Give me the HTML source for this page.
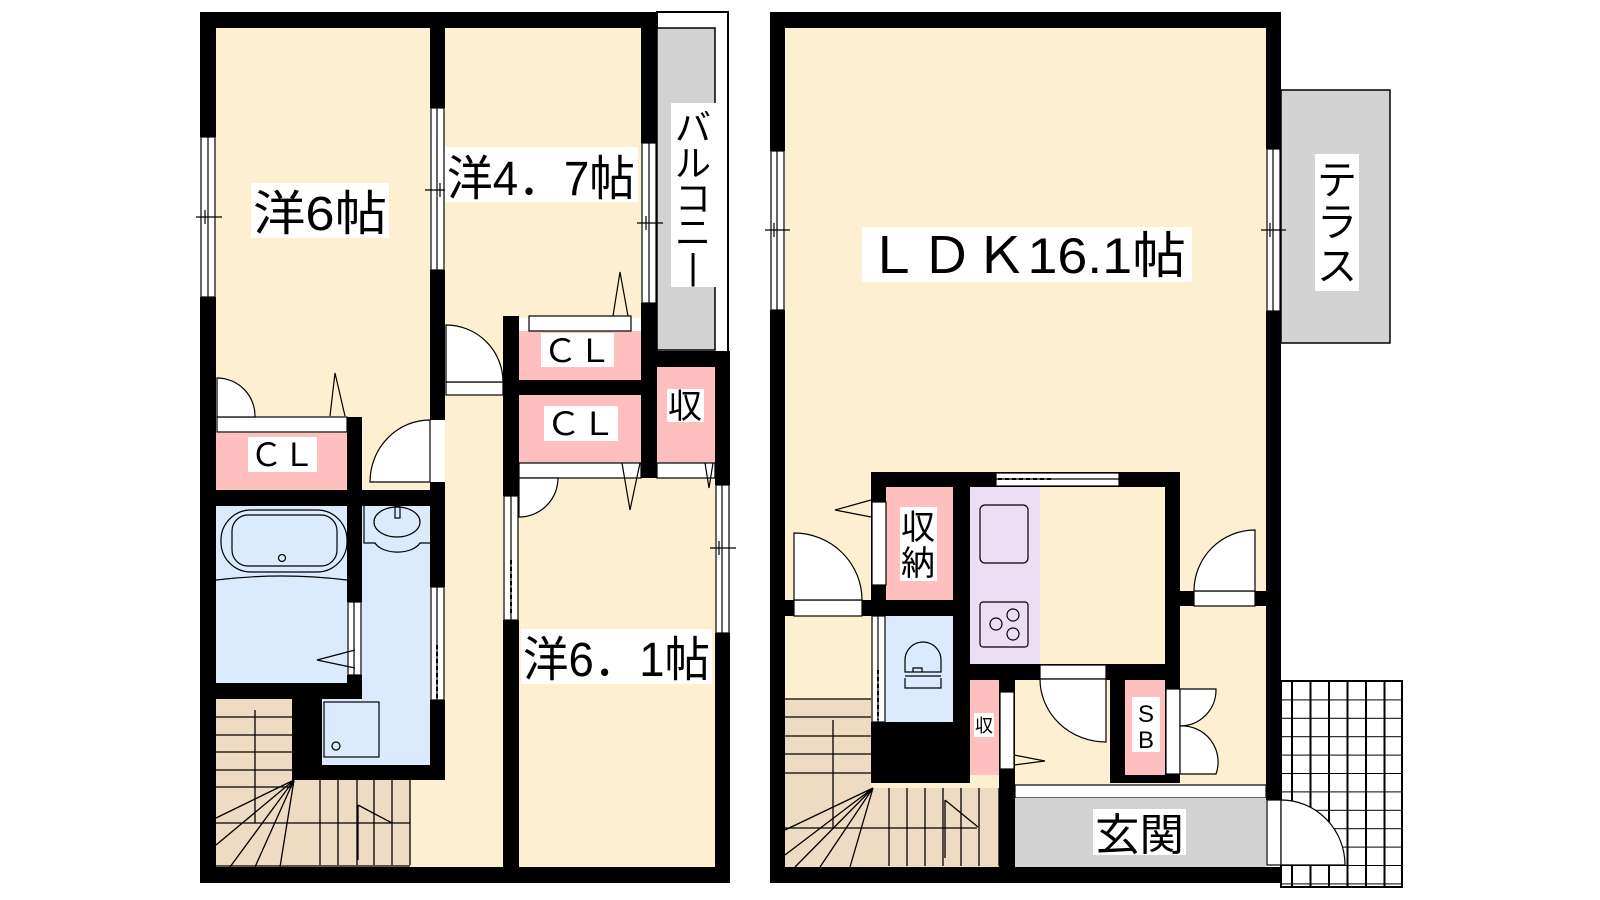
<!DOCTYPE html>
<html><head><meta charset="utf-8">
<style>
html,body{margin:0;padding:0;background:#fff;}
svg{display:block;}
text{font-family:"Liberation Sans","Noto Sans CJK JP",sans-serif;fill:#000;}
</style></head>
<body>
<svg width="1600" height="900" viewBox="0 0 1600 900" xmlns="http://www.w3.org/2000/svg">
<defs>
<pattern id="grid" x="1281" y="681" width="18.5" height="18.4" patternUnits="userSpaceOnUse">
<path d="M11 0V18.4M0 0H18.5" stroke="#000" stroke-width="2" fill="none"/>
</pattern>
</defs>

<!-- ============ LEFT BUILDING ============ -->
<rect x="216" y="28" width="214" height="462" fill="#fdf0d1"/>
<rect x="445" y="28" width="196" height="290" fill="#fdf0d1"/>
<rect x="445" y="316" width="58" height="552" fill="#fdf0d1"/>
<rect x="405" y="778" width="45" height="90" fill="#fdf0d1"/>
<rect x="519" y="478" width="196" height="390" fill="#fdf0d1"/>
<rect x="657" y="12" width="71" height="340" fill="#fff" stroke="#000" stroke-width="2"/>
<rect x="657" y="28" width="58" height="322" fill="#d3d3d3" stroke="#000" stroke-width="1.5"/>
<rect x="216" y="433" width="131" height="57" fill="#ffbfbf"/>
<rect x="519" y="331" width="122" height="49" fill="#ffbfbf"/>
<rect x="519" y="395" width="122" height="68" fill="#ffbfbf"/>
<rect x="657" y="367" width="58" height="96" fill="#ffbfbf"/>
<rect x="216" y="506" width="131" height="177" fill="#dbeafc"/>
<rect x="362" y="506" width="68" height="259" fill="#dbeafc"/>
<rect x="322" y="699" width="108" height="66" fill="#dbeafc"/>
<rect x="216" y="699" width="76" height="168" fill="#eddcc2"/>
<rect x="292" y="780" width="118" height="87" fill="#eddcc2"/>
<g stroke="#000" stroke-width="1.3" fill="none">
<path d="M216 717H292M216 735H292M216 752H292M216 770H292M216 787H292M255 710V823H410M255 823H216"/>
<path d="M320 780V865M338 780V865M357 780V865M374 780V865M392 780V865M410 780V865"/>
<path d="M294 780L216 818M294 780L216 845M294 780L230 867M294 780L255 867M294 780L280 867"/>
<path d="M358 805V860M358 805L392 823"/>
<path d="M216 866H410"/>
</g>
<g fill="#000">
<rect x="200" y="12" width="457" height="16"/>
<rect x="200" y="12" width="16" height="125"/>
<rect x="200" y="297" width="16" height="586"/>
<rect x="430" y="12" width="15" height="96"/>
<rect x="430" y="270" width="15" height="150"/>
<rect x="430" y="482" width="15" height="105"/>
<rect x="430" y="700" width="15" height="80"/>
<rect x="641" y="12" width="16" height="131"/>
<rect x="641" y="303" width="16" height="175"/>
<rect x="641" y="351" width="89" height="16"/>
<rect x="715" y="351" width="15" height="134"/>
<rect x="715" y="633" width="15" height="250"/>
<rect x="503" y="316" width="16" height="180"/>
<rect x="503" y="620" width="16" height="263"/>
<rect x="503" y="380" width="138" height="15"/>
<rect x="347" y="417" width="15" height="185"/>
<rect x="347" y="675" width="15" height="24"/>
<rect x="200" y="490" width="245" height="16"/>
<rect x="200" y="683" width="162" height="16"/>
<rect x="292" y="683" width="30" height="97"/>
<rect x="292" y="765" width="153" height="15"/>
<rect x="200" y="867" width="530" height="16"/>
</g>
<g fill="#fff" stroke="#000" stroke-width="1.2">
<rect x="201" y="137" width="14" height="160"/>
<rect x="431" y="108" width="13" height="162"/>
<rect x="642" y="143" width="14" height="160"/>
<rect x="716" y="485" width="13" height="148"/>
<rect x="504" y="496" width="14" height="124"/>
<rect x="431" y="587" width="13" height="113"/>
<rect x="348" y="602" width="13" height="73"/>
</g>
<g stroke="#000" stroke-width="1.2" fill="none">
<path d="M208 137V297M437 108V270M649 143V303M722 485V633M511 496V620M437 587V700M354 602V675"/>
<path d="M196 217H222M205 210V224M425 190H451M440 183V197M637 223H663M646 216V230M710 548H736M719 541V555"/>
<path d="M511 560V615M437 645V698" stroke-dasharray="4 3" stroke-width="2"/>
</g>
<g fill="#fff" stroke="#000" stroke-width="1.2">
<rect x="217" y="417" width="130" height="15"/>
<path d="M217 417V378A38 38 0 0 1 255 417Z"/>
<rect x="446" y="382" width="57" height="13"/>
<path d="M446 382V325A57 57 0 0 1 503 382Z"/>
<path d="M430 420V482H370A60 62 0 0 1 430 420Z"/>
<rect x="529" y="316" width="102" height="15"/>
<rect x="519" y="463" width="122" height="15"/>
<rect x="657" y="463" width="58" height="15"/>
<path d="M519 478H558A39 39 0 0 1 519 517Z"/>
<path d="M330 416L335 373L345 416" fill="none"/>
<path d="M613 316L620 272L628 316" fill="none"/>
<path d="M622 463L630 510L640 463" fill="none"/>
<path d="M705 463L709 488L713 463" fill="none"/>
<path d="M355 650L317 660L355 668" fill="none"/>
</g>
<g fill="none" stroke="#000" stroke-width="1.2">
<rect x="221" y="510" width="126" height="62" rx="30"/>
<rect x="232" y="515" width="105" height="51" rx="16"/>
<circle cx="282" cy="558" r="3.5"/>
<path d="M216 580Q282 572 347 580"/>
<path d="M364 506V543H375A24 14 0 0 0 420 543H430"/>
<ellipse cx="397" cy="522" rx="23" ry="15"/>
<rect x="395" y="506" width="5" height="12"/>
<rect x="324" y="702" width="55" height="55"/>
<circle cx="336" cy="746" r="4"/>
</g>

<!-- ============ RIGHT BUILDING ============ -->
<rect x="785" y="28" width="481" height="839" fill="#fdf0d1"/>
<rect x="1281" y="90" width="109" height="253" fill="#d3d3d3" stroke="#000" stroke-width="1.5"/>
<rect x="1281" y="681" width="121" height="206" fill="url(#grid)" stroke="#000" stroke-width="2"/>
<rect x="886" y="487" width="67" height="113" fill="#ffbfbf"/>
<rect x="970" y="487" width="70" height="177" fill="#ecdff3"/>
<rect x="886" y="616" width="67" height="106" fill="#dbeafc"/>
<rect x="969" y="680" width="30" height="95" fill="#ffbfbf"/>
<rect x="1125" y="680" width="40" height="95" fill="#ffbfbf"/>
<rect x="785" y="699" width="86" height="168" fill="#eddcc2"/>
<rect x="871" y="788" width="128" height="79" fill="#eddcc2"/>
<g stroke="#000" stroke-width="1.3" fill="none">
<path d="M785 699H871M785 717H871M785 736H871M785 754H871M785 773H871M833 720V828H977M833 828H785"/>
<path d="M889 788V866M907 788V866M925 788V866M943 788V866M961 788V866M979 788V866M999 788V866"/>
<path d="M873 788L785 830M873 788L785 855M873 788L795 867M873 788L820 867M873 788L850 867"/>
<path d="M945 800V858M945 800L978 827"/>
</g>
<rect x="1015" y="785" width="251" height="13" fill="#fff" stroke="#000" stroke-width="1.2"/>
<rect x="1015" y="798" width="251" height="69" fill="#d3d3d3"/>
<g fill="#000">
<rect x="770" y="12" width="511" height="16"/>
<rect x="770" y="12" width="15" height="139"/>
<rect x="770" y="310" width="15" height="573"/>
<rect x="1266" y="12" width="15" height="137"/>
<rect x="1266" y="311" width="15" height="489"/>
<rect x="770" y="867" width="511" height="16"/>
<rect x="871" y="472" width="309" height="15"/>
<rect x="871" y="472" width="15" height="128"/>
<rect x="953" y="472" width="17" height="311"/>
<rect x="1165" y="472" width="15" height="311"/>
<rect x="770" y="600" width="200" height="16"/>
<rect x="871" y="722" width="99" height="61"/>
<rect x="953" y="664" width="227" height="16"/>
<rect x="1110" y="664" width="15" height="119"/>
<rect x="1110" y="775" width="70" height="8"/>
<rect x="999" y="680" width="16" height="187"/>
<rect x="1180" y="591" width="86" height="15"/>
</g>
<g fill="#fff" stroke="#000" stroke-width="1.2">
<rect x="771" y="151" width="13" height="159"/>
<rect x="1267" y="149" width="13" height="162"/>
<rect x="996" y="473" width="123" height="13"/>
<rect x="872" y="616" width="13" height="106"/>
</g>
<g stroke="#000" stroke-width="1.2" fill="none">
<path d="M777 151V310M1273 149V311M996 479H1119M878 616V722"/>
<path d="M765 230H790M774 223V237M1261 230H1286M1270 223V237"/>
<path d="M998 479H1051M878 670V720" stroke-dasharray="4 3" stroke-width="2"/>
</g>
<g fill="#fff" stroke="#000" stroke-width="1.2">
<rect x="794" y="600" width="68" height="16"/>
<path d="M794 600V533A68 67 0 0 1 862 600Z"/>
<rect x="872" y="502" width="14" height="83"/>
<path d="M871 517L835 510L871 500" fill="none"/>
<rect x="1194" y="591" width="61" height="15"/>
<path d="M1255 591V530A61 61 0 0 0 1194 591Z"/>
<rect x="1040" y="665" width="66" height="14"/>
<path d="M1040 679H1106V742A66 63 0 0 1 1040 679Z"/>
<rect x="1000" y="692" width="14" height="77"/>
<path d="M1014 765L1045 761L1014 755" fill="none"/>
<rect x="1166" y="689" width="14" height="85"/>
<path d="M1180 689H1216A36 36 0 0 1 1180 726Z"/>
<path d="M1180 774H1216A36 36 0 0 0 1180 726Z"/>
<rect x="1267" y="800" width="14" height="65"/>
<path d="M1281 800A64 65 0 0 1 1345 865H1281Z"/>
</g>
<g fill="none" stroke="#000" stroke-width="1.2">
<rect x="980" y="505" width="48" height="58" rx="5"/>
<rect x="980" y="602" width="48" height="45" rx="3"/>
<circle cx="996" cy="624" r="6"/><circle cx="1013" cy="615" r="6"/><circle cx="1013" cy="634" r="6"/>
<path d="M905 672V660A18 18 0 0 1 941 660V672ZM905 672H913V668H922V672H941M905 676H941M905 678V688H941V678"/>
</g>

<!-- ============ LABELS ============ -->
<g>
<rect x="251" y="183" width="138" height="55" fill="#fff"/>
<text x="253" y="230" font-size="48" textLength="134" lengthAdjust="spacingAndGlyphs">洋6帖</text>
<rect x="445" y="147" width="193" height="55" fill="#fff"/>
<text x="447" y="195" font-size="48" textLength="188" lengthAdjust="spacingAndGlyphs">洋4．7帖</text>
<rect x="671" y="103" width="45" height="184" fill="#fff"/>
<text font-size="36" x="693" y="140" text-anchor="middle">バ</text>
<text font-size="36" x="693" y="176" text-anchor="middle">ル</text>
<text font-size="36" x="693" y="211" text-anchor="middle">コ</text>
<text font-size="36" x="693" y="245" text-anchor="middle">ニ</text>
<text font-size="36" x="693" y="279" text-anchor="middle">|</text>
<rect x="248" y="437" width="69" height="35" fill="#fff"/>
<text x="250" y="466" font-size="32" textLength="65" lengthAdjust="spacingAndGlyphs">ＣＬ</text>
<rect x="541" y="333" width="73" height="34" fill="#fff"/>
<text x="543" y="362" font-size="32" textLength="69" lengthAdjust="spacingAndGlyphs">ＣＬ</text>
<rect x="544" y="406" width="74" height="35" fill="#fff"/>
<text x="546" y="435" font-size="32" textLength="70" lengthAdjust="spacingAndGlyphs">ＣＬ</text>
<rect x="667" y="389" width="37" height="33" fill="#fff"/>
<text x="668" y="418" font-size="34">収</text>
<rect x="521" y="629" width="191" height="55" fill="#fff"/>
<text x="523" y="676" font-size="48" textLength="187" lengthAdjust="spacingAndGlyphs">洋6．1帖</text>
<rect x="862" y="227" width="330" height="55" fill="#fff"/>
<text x="866" y="273" font-size="50" textLength="320" lengthAdjust="spacingAndGlyphs">ＬＤＫ16.1帖</text>
<rect x="1315" y="154" width="44" height="137" fill="#fff"/>
<text font-size="40" x="1337" y="194" text-anchor="middle">テ</text>
<text font-size="40" x="1337" y="236" text-anchor="middle">ラ</text>
<text font-size="40" x="1337" y="280" text-anchor="middle">ス</text>
<rect x="900" y="507" width="37" height="74" fill="#fff"/>
<text x="901" y="539" font-size="34">収</text>
<text x="901" y="575" font-size="34">納</text>
<rect x="974" y="713" width="20" height="24" fill="#fff"/>
<text x="975" y="732" font-size="18">収</text>
<rect x="1132" y="697" width="28" height="55" fill="#fff"/>
<text x="1146" y="722" font-size="24" text-anchor="middle">S</text>
<text x="1146" y="748" font-size="24" text-anchor="middle">B</text>
<rect x="1093" y="809" width="93" height="46" fill="#fff"/>
<text x="1095" y="850" font-size="44" textLength="89" lengthAdjust="spacingAndGlyphs">玄関</text>
</g>
</svg>
</body></html>
